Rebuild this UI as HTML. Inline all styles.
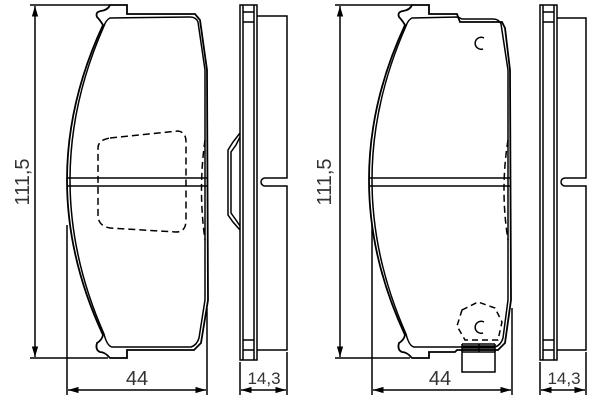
<!DOCTYPE html>
<html><head><style>body{margin:0;background:#fff}svg{display:block}</style></head><body>
<svg width="600" height="400" viewBox="0 0 600 400" xmlns="http://www.w3.org/2000/svg">
<defs><marker id="a" viewBox="0 0 10 10" refX="10" refY="5" markerWidth="7" markerHeight="7" orient="auto-start-reverse"><path d="M0,2 L10,5 L0,8 z" fill="#000"/></marker></defs>
<g fill="none" stroke="#000" stroke-width="1.5">
<!-- LEFT PAD -->
<line x1="30" y1="5" x2="110" y2="5"/><line x1="30" y1="358" x2="108" y2="358"/>
<line x1="35" y1="6" x2="35" y2="357" marker-start="url(#a)" marker-end="url(#a)"/>
<path d="M110,5 H127 V14 H195 L200,20 L207,70 L208,300 L201,343 L194,350 H127 V358 H110 Q105,352 100,352 Q95,350 97,343 Q102,340 103,335 Q31,180 103,25 Q100,20 97,17 Q95,12 101,11 Q108,10 110,5 Z" stroke-width="1.8"/>
<path d="M110,18 Q106,20 104,26 Q36,180 104,334 Q107,346 112,347 H191 Q197,345 199,338 L205,300 L205,70 L198,22 Q196,17 190,17 Z"/>
<line x1="67" y1="178" x2="207" y2="178"/><line x1="67" y1="186" x2="207" y2="186"/>
<path d="M110,138 L178,131 Q186,132 186,142 V220 Q186,232 176,232 L110,228 Q98,226 98,215 V148 Q98,140 110,138 Z" stroke-dasharray="7,4"/>
<path d="M205,140 Q198,190 205,240" stroke-dasharray="7,4"/>
<line x1="67" y1="225" x2="67" y2="395"/><line x1="207" y1="308" x2="207" y2="395"/>
<line x1="68" y1="390" x2="206" y2="390" marker-start="url(#a)" marker-end="url(#a)"/>
<!-- left side view -->
<rect x="240" y="5" width="17" height="355"/>
<line x1="243" y1="12" x2="254" y2="12"/><line x1="243" y1="22" x2="254" y2="22"/>
<line x1="243" y1="340" x2="254" y2="340"/><line x1="243" y1="350" x2="254" y2="350"/>
<line x1="243" y1="5" x2="243" y2="360"/><line x1="254" y1="5" x2="254" y2="360"/>
<path d="M257,16 H287 V178 H265 A4,4 0 0 0 265,186 H287 V350 H257"/>
<path d="M240,133 L233,142 L228,150 V215 L233,222 L240,230"/>
<path d="M240,137 L236,145 L231,152 V213 L236,220 L240,226"/>
<line x1="240" y1="362" x2="240" y2="395"/><line x1="287" y1="352" x2="287" y2="395"/>
<line x1="241" y1="390" x2="286" y2="390" marker-start="url(#a)" marker-end="url(#a)"/>
<!-- RIGHT PAD -->
<line x1="335" y1="5" x2="412" y2="5"/><line x1="335" y1="358" x2="410" y2="358"/>
<line x1="340" y1="6" x2="340" y2="357" marker-start="url(#a)" marker-end="url(#a)"/>
<path d="M412,5 H429 V14 H457 L460,22 H502 L505,28 L510,70 L511,300 L505,343 L498,350 H457 L455,352 H429 V358 H412 Q407,352 402,352 Q397,350 399,343 Q404,340 405,335 Q333,180 405,25 Q402,20 399,17 Q397,12 403,11 Q410,10 412,5 Z" stroke-width="1.8"/>
<path d="M412,18 Q408,20 406,26 Q338,180 406,334 Q409,346 414,347 H495 Q501,345 503,338 L508,300 L508,70 L501,24 Q499,19 493,19 H462 L458,17 Z"/>
<line x1="369" y1="178" x2="510" y2="178"/><line x1="369" y1="186" x2="510" y2="186"/>
<path d="M508,140 Q500,190 508,240" stroke-dasharray="7,4"/>
<path d="M484,38 A6,6 0 1 0 483,49"/>
<path d="M484,322 A6,6 0 1 0 483,333"/>
<path d="M462,310 L478,302 L495,308 L502,322 L498,340 H465 L457,326 Z" stroke-dasharray="6,4"/>
<rect x="462" y="352" width="33" height="20"/>
<line x1="462" y1="344" x2="495" y2="344"/><line x1="462" y1="346" x2="495" y2="346"/><line x1="462" y1="348" x2="495" y2="348"/><line x1="462" y1="350" x2="495" y2="350"/>
<line x1="462" y1="344" x2="462" y2="352"/><line x1="495" y1="344" x2="495" y2="352"/><line x1="479" y1="344" x2="479" y2="352"/>
<line x1="372" y1="225" x2="372" y2="395"/><line x1="512" y1="308" x2="512" y2="395"/>
<line x1="373" y1="390" x2="511" y2="390" marker-start="url(#a)" marker-end="url(#a)"/>
<!-- right side view -->
<rect x="540" y="5" width="17" height="355"/>
<line x1="543" y1="12" x2="554" y2="12"/><line x1="543" y1="22" x2="554" y2="22"/>
<line x1="543" y1="340" x2="554" y2="340"/><line x1="543" y1="350" x2="554" y2="350"/>
<line x1="543" y1="5" x2="543" y2="360"/><line x1="554" y1="5" x2="554" y2="360"/>
<path d="M557,18 H586 V178 H565 A4,4 0 0 0 565,186 H586 V350 H557"/>
<line x1="540" y1="362" x2="540" y2="395"/><line x1="586" y1="352" x2="586" y2="395"/>
<line x1="541" y1="390" x2="585" y2="390" marker-start="url(#a)" marker-end="url(#a)"/>
</g>
<g font-family="Liberation Sans, sans-serif" font-size="20" fill="#333">
<text x="29" y="182" transform="rotate(-90 29 182)" text-anchor="middle">111,5</text>
<text x="331" y="182" transform="rotate(-90 331 182)" text-anchor="middle">111,5</text>
<text x="137" y="385" text-anchor="middle">44</text>
<text x="440" y="385" text-anchor="middle">44</text>
<text x="264" y="384" text-anchor="middle" font-size="17">14,3</text>
<text x="564" y="384" text-anchor="middle" font-size="17">14,3</text>
</g>
</svg>
</body></html>
